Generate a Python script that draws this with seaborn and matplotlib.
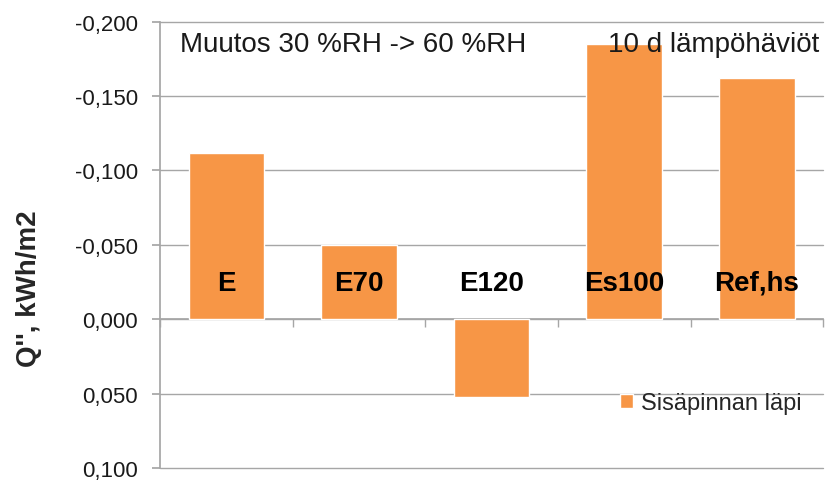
import numpy as np
import pandas as pd
import matplotlib
matplotlib.use("Agg")
import matplotlib.pyplot as plt
from matplotlib.ticker import FuncFormatter, FixedLocator
import seaborn as sns

# ========== DATA ==========
categories = ["E", "E70", "E120", "Es100", "Ref,hs"]
values = [-0.112, -0.050, 0.052, -0.185, -0.162]
series_name = "Sisäpinnan läpi"
y_ticks = [-0.200, -0.150, -0.100, -0.050, 0.000, 0.050, 0.100]

bar_color = "#F79646"
grid_color = "#A6A6A6"

sns.set_theme(style="white")
plt.rcParams["font.family"] = ["Liberation Sans", "DejaVu Sans"]

df = pd.DataFrame({"Case": categories, "Q": values, "Series": series_name})

fig = plt.figure(figsize=(8.34, 4.81), dpi=100)
ax = fig.add_axes([0.192, 0.025, 0.795, 0.928])

sns.barplot(data=df, x="Case", y="Q", hue="Series", palette=[bar_color],
            width=0.57, saturation=1, ax=ax, zorder=3)

# inverted y axis, Excel style
ax.set_ylim(0.100, -0.200)
ax.set_xlim(-0.5, len(categories) - 0.5)
ax.yaxis.set_major_locator(FixedLocator(y_ticks))
ax.yaxis.set_major_formatter(FuncFormatter(lambda v, p: f"{v:.3f}".replace(".", ",").replace("-0,000", "0,000")))
ax.grid(axis="y", color=grid_color, linewidth=1.0, zorder=0)
for gl in ax.get_ygridlines():
    gl.set_clip_on(False)

for s in ["top", "right"]:
    ax.spines[s].set_visible(False)
ax.spines["left"].set_color(grid_color)
ax.spines["bottom"].set_color(grid_color)
ax.spines["bottom"].set_position(("data", 0))

ax.tick_params(axis="y", which="major", direction="out", length=6, color=grid_color,
               labelsize=16, pad=10, left=True, labelcolor="#1a1a1a")
# category boundaries as minor ticks, names drawn above the zero line
ax.set_xticks(np.arange(-0.5, len(categories), 1.0), minor=True)
ax.tick_params(axis="x", which="minor", direction="out", length=6, color=grid_color, bottom=True)
ax.tick_params(axis="x", which="major", length=0, labelbottom=False)
for i, name in enumerate(categories):
    ax.text(i, -0.0245, name, ha="center", va="center", fontsize=20,
            fontweight="bold", color="black", zorder=5)

ax.set_xlabel("")
ax.set_ylabel("Q'', kWh/m2", fontsize=20, fontweight="bold")
ax.yaxis.set_label_coords(-0.178, 0.405)

ax.text(0.03, 0.95, "Muutos 30 %RH -> 60 %RH", transform=ax.transAxes,
        fontsize=20, va="center", ha="left", color="#1a1a1a")
ax.text(0.675, 0.95, "10 d lämpöhäviöt", transform=ax.transAxes,
        fontsize=20, va="center", ha="left", clip_on=False, color="#1a1a1a")

ax.legend(loc="center left", bbox_to_anchor=(0.68, 0.145), frameon=False, fontsize=17,
          handlelength=0.55, handleheight=0.55, handletextpad=0.3, borderaxespad=0)

fig.savefig("out.png", dpi=100)
